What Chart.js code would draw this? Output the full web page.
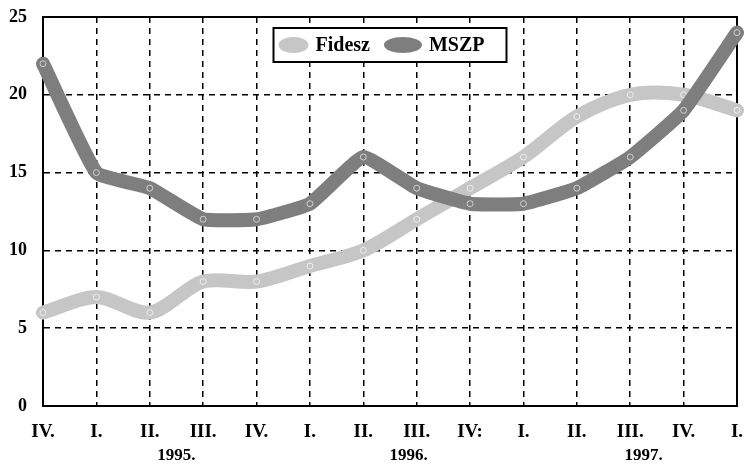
<!DOCTYPE html>
<html>
<head>
<meta charset="utf-8">
<script src="https://cdn.jsdelivr.net/npm/chart.js@4/dist/chart.umd.min.js"></script>
<style>
html,body{margin:0;padding:0;background:#fff;}
#wrap{width:746px;height:472px;position:relative;}
</style>
</head>
<body>
<div id="wrap"><canvas id="c" width="746" height="472"></canvas></div>
<script>
const quarters = ['IV.', 'I.', 'II.', 'III.', 'IV.', 'I.', 'II.', 'III.', 'IV:', 'I.', 'II.', 'III.', 'IV.', 'I.'];
const fidesz = [6, 7, 6, 8, 8, 9, 10, 12, 14, 16, 18.6, 20, 20, 19];
const mszp = [22, 15, 14, 12, 12, 13, 16, 14, 13, 13, 14, 16, 19, 24];
const yearLabels = ['1995.', '1996.', '1997.'];
const yearAnchors = [2.5, 6.85, 11.25];
const yTicks = [0, 5, 10, 15, 20, 25];

const FONT = '"Liberation Serif", "DejaVu Serif", serif';
const colFidesz = '#c6c6c6';
const colMszp = '#7e7e7e';

const framePlugin = {
  id: 'frame',
  beforeDatasetsDraw(chart) {
    const a = chart.chartArea, ctx = chart.ctx;
    ctx.save();
    ctx.strokeStyle = '#000';
    ctx.lineWidth = 2;
    ctx.strokeRect(a.left, a.top, a.right - a.left, a.bottom - a.top);
    ctx.restore();
  },
  afterDraw(chart) {
    const ctx = chart.ctx, x = chart.scales.x, a = chart.chartArea;
    ctx.save();
    ctx.fillStyle = '#000';
    ctx.font = 'bold 17px ' + FONT;
    ctx.textAlign = 'center';
    ctx.textBaseline = 'middle';
    yearLabels.forEach((t, i) => {
      ctx.fillText(t, x.getPixelForValue(yearAnchors[i]), 456);
    });
    // legend box
    ctx.font = 'bold 20px ' + FONT;
    const ds = chart.data.datasets;
    const sw = [30, 38], gap = 7, between = 14, padL = 5, padR = 22;
    let total = padL + padR;
    ds.forEach((d, i) => { total += sw[i] + gap + ctx.measureText(d.label).width + (i ? between : 0); });
    const cx = (a.left + a.right) / 2;
    const left = cx - total / 2, top = 28, h = 34;
    ctx.fillStyle = '#fff';
    ctx.fillRect(left, top, total, h);
    ctx.strokeStyle = '#000';
    ctx.lineWidth = 2;
    ctx.strokeRect(left, top, total, h);
    let xx = left + padL;
    const cy = top + h / 2;
    ds.forEach((d, i) => {
      if (i) xx += between;
      ctx.fillStyle = d.borderColor;
      ctx.beginPath();
      ctx.ellipse(xx + sw[i] / 2, cy, sw[i] / 2, 8, 0, 0, Math.PI * 2);
      ctx.fill();
      xx += sw[i] + gap;
      ctx.fillStyle = '#000';
      ctx.textAlign = 'left';
      ctx.fillText(d.label, xx, cy + 1);
      xx += ctx.measureText(d.label).width;
    });
    ctx.restore();
  }
};

new Chart(document.getElementById('c'), {
  type: 'line',
  data: {
    labels: quarters,
    datasets: [
      { label: 'Fidesz', data: fidesz, borderColor: colFidesz, backgroundColor: colFidesz,
        borderWidth: 14, tension: 0.3, borderCapStyle: 'round', borderJoinStyle: 'round',
        pointRadius: 3, pointBorderColor: '#eeeeee', pointBackgroundColor: 'rgba(0,0,0,0)', pointBorderWidth: 1,
        clip: false, order: 2 },
      { label: 'MSZP', data: mszp, borderColor: colMszp, backgroundColor: colMszp,
        borderWidth: 14, tension: 0.12, borderCapStyle: 'round', borderJoinStyle: 'round',
        pointRadius: 3, pointBorderColor: '#d0d0d0', pointBackgroundColor: 'rgba(0,0,0,0)', pointBorderWidth: 1,
        clip: false, order: 1 }
    ]
  },
  options: {
    responsive: false,
    animation: false,
    layout: { padding: { top: 17, right: 9, left: 0, bottom: 0 } },
    plugins: {
      tooltip: { enabled: false },
      legend: { display: false }
    },
    scales: {
      x: {
        offset: false,
        grid: { color: '#000', lineWidth: 1.5, drawTicks: false },
        border: { display: true, color: '#000', width: 2, dash: [6, 5] },
        ticks: { color: '#000', font: { family: FONT, size: 19, weight: 'bold' }, padding: 15, maxRotation: 0, autoSkip: false },
        afterFit(s) { s.height = 66; s.paddingLeft = 0; s.paddingRight = 0; }
      },
      y: {
        min: 0, max: 25,
        afterBuildTicks(s) { s.ticks = yTicks.map(v => ({ value: v })); },
        grid: { color: '#000', lineWidth: 1.5, drawTicks: false },
        border: { display: true, color: '#000', width: 2, dash: [6, 5] },
        ticks: { color: '#000', font: { family: FONT, size: 18, weight: 'bold' }, padding: 16 },
        afterFit(s) { s.width = 43; s.paddingTop = 0; s.paddingBottom = 0; }
      }
    }
  },
  plugins: [framePlugin]
});
</script>
</body>
</html>
